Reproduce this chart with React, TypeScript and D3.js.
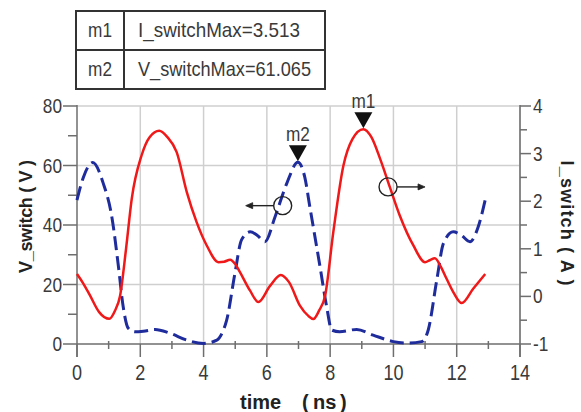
import React from "react";
import * as d3 from "d3";

// Switch current I_switch (A), sampled along time (ns)
const currentTime = [
  0, 0.2, 0.41, 0.7, 1.02, 1.2, 1.36, 1.55, 1.73, 2.04, 2.3, 2.6, 2.85, 3.15, 3.47, 3.78, 4.1,
  4.47, 4.65, 4.84, 5.0, 5.15, 5.47, 5.73, 6.1, 6.44, 6.7, 7.05, 7.31, 7.47, 7.65, 7.84, 8.1,
  8.42, 8.7, 9.05, 9.3, 9.58, 9.89, 10.2, 10.63, 11.0, 11.15, 11.31, 11.5, 11.68, 11.9, 12.16,
  12.52, 12.9,
];
const currentAmps = [
  0.47, 0.27, 0.02, -0.33, -0.47, -0.3, 0.01, 1.0, 2.05, 2.96, 3.35, 3.48, 3.35, 3.03, 2.19, 1.56,
  1.07, 0.72, 0.73, 0.77, 0.68, 0.51, 0.12, -0.12, 0.22, 0.45, 0.3, -0.2, -0.41, -0.475, -0.3,
  0.01, 1.35, 2.75, 3.3, 3.513, 3.35, 2.89, 2.29, 1.7, 1.07, 0.72, 0.76, 0.8, 0.62, 0.37, 0.08,
  -0.14, 0.16, 0.47,
];

// Switch voltage V_switch (V), sampled along time (ns)
const voltageTime = [
  0, 0.2, 0.5, 0.83, 1.1, 1.31, 1.46, 1.62, 1.83, 2.1, 2.47, 2.94, 3.47, 4.0, 4.42, 4.6, 4.73,
  4.99, 5.2, 5.47, 5.7, 5.94, 6.26, 6.63, 6.98, 7.2, 7.36, 7.68, 7.89, 8.05, 8.3, 8.84, 9.36,
  10.0, 10.45, 10.89, 11.1, 11.37, 11.58, 11.89, 12.15, 12.42, 12.68, 12.9,
];
const voltageVolts = [
  48.4, 56, 61, 54, 42.8, 26, 12.5, 5.3, 4.1, 4.3, 4.9, 3.6, 1.3, 0.2, 1.3, 4, 8, 23.7, 35, 37.7,
  36.5, 34.4, 42.8, 54, 61.065, 56, 46, 26, 12.5, 4.7, 4.1, 4.9, 3, 0.8, 0.3, 0.8, 4.7, 21.5,
  33.8, 37.7, 36.5, 34.4, 39.4, 48.4,
];

// Axis ticks
const timeTicks = [0, 2, 4, 6, 8, 10, 12, 14];
const timeMinorTicks = [1, 3, 5, 7, 9, 11, 13];
const voltTicks = [0, 20, 40, 60, 80];
const voltMinorTicks = [10, 30, 50, 70];
const ampTicks = [-1, 0, 1, 2, 3, 4];
const ampMinorTicks = [-0.5, 0.5, 1.5, 2.5, 3.5];

// Markers: m1 on the current trace, m2 on the voltage trace
const markerNames = ["m1", "m2"];
const markerLabels = ["I_switchMax", "V_switchMax"];
const markerValues = [3.513, 61.065];
const markerTimes = [9.05, 6.98];
const markerAxis = ["I", "V"];

// Axis-ownership indicators (circle on a trace with an arrow toward its axis)
const indicatorTimes = [6.5, 9.83];
const indicatorValues = [46.5, 2.3];
const indicatorAxis = ["V", "I"];

const W = 581;
const H = 412;
const sans = "'Liberation Sans', Arial, sans-serif";
// horizontal squeeze that gives the narrow face used for numbers and marker text
const SQUEEZE = 0.82;

function Narrow({
  x,
  y,
  anchor = "start",
  size = 21,
  children,
}: {
  x: number;
  y: number;
  anchor?: "start" | "middle" | "end";
  size?: number;
  children: React.ReactNode;
}) {
  return (
    <text
      transform={`translate(${x},${y}) scale(${SQUEEZE},1)`}
      textAnchor={anchor}
      fontFamily={sans}
      fontSize={size}
      fill="#3a3a3a"
    >
      {children}
    </text>
  );
}

export default function App() {
  const x = d3.scaleLinear().domain([0, 14]).range([77, 520]);
  const yV = d3.scaleLinear().domain([0, 80]).range([344, 106]);
  const yI = d3.scaleLinear().domain([-1, 4]).range([344, 106]);

  const currentLine = d3
    .line<number>()
    .x((_, i) => x(currentTime[i]))
    .y((d) => yI(d))
    .curve(d3.curveMonotoneX);
  const voltageLine = d3
    .line<number>()
    .x((_, i) => x(voltageTime[i]))
    .y((d) => yV(d))
    .curve(d3.curveMonotoneX);

  const axisColor = "#6e6e6e";
  const gridColor = "#cfcfcf";
  const tableLeft = 76;
  const tableRight = 325;
  const tableTop = 11;
  const rowH = 39;
  const colSplit = 124;
  const valueWidths = [162, 173];

  return (
    <svg
      width={W}
      height={H}
      style={{ position: "absolute", left: 0, top: 0, background: "#fff" }}
    >
      {/* marker table */}
      <g>
        <rect
          x={tableLeft}
          y={tableTop}
          width={tableRight - tableLeft}
          height={rowH * markerNames.length}
          fill="#fff"
          stroke="#333"
          strokeWidth={2}
        />
        <line x1={colSplit} x2={colSplit} y1={tableTop} y2={tableTop + rowH * 2} stroke="#333" strokeWidth={2} />
        {markerNames.map((n, i) => (
          <g key={n}>
            {i > 0 && (
              <line
                x1={tableLeft}
                x2={tableRight}
                y1={tableTop + rowH * i}
                y2={tableTop + rowH * i}
                stroke="#333"
                strokeWidth={2}
              />
            )}
            <Narrow x={(tableLeft + colSplit) / 2} y={tableTop + rowH * i + 26} anchor="middle">
              {n}
            </Narrow>
            <text
              x={138}
              y={tableTop + rowH * i + 26}
              fontFamily={sans}
              fontSize={21}
              fill="#3a3a3a"
              textLength={valueWidths[i]}
              lengthAdjust="spacingAndGlyphs"
            >
              {`${markerLabels[i]}=${markerValues[i].toFixed(3)}`}
            </text>
          </g>
        ))}
      </g>

      {/* grid */}
      <g stroke={gridColor} strokeWidth={1.5}>
        {timeTicks.slice(1).map((t) => (
          <line key={t} x1={x(t)} x2={x(t)} y1={yV(80)} y2={yV(0)} />
        ))}
        {voltTicks.slice(1).map((v) => (
          <line key={v} x1={x(0)} x2={x(14)} y1={yV(v)} y2={yV(v)} />
        ))}
      </g>

      {/* axes */}
      <g stroke={axisColor} strokeWidth={1.5}>
        <line x1={x(0)} x2={x(0)} y1={yV(80) - 1} y2={yV(0) + 13} />
        <line x1={x(14)} x2={x(14)} y1={yV(80) - 1} y2={yV(0) + 13} />
        <line x1={x(0)} x2={x(14)} y1={yV(0)} y2={yV(0)} />
        {timeTicks.map((t) => (
          <line key={t} x1={x(t)} x2={x(t)} y1={yV(0)} y2={yV(0) + 13} />
        ))}
        {timeMinorTicks.map((t) => (
          <line key={t} x1={x(t)} x2={x(t)} y1={yV(0) - 3} y2={yV(0) + 5} />
        ))}
        {voltTicks.map((v) => (
          <line key={v} x1={x(0) - 14} x2={x(0)} y1={yV(v)} y2={yV(v)} />
        ))}
        {voltMinorTicks.map((v) => (
          <line key={v} x1={x(0) - 9} x2={x(0)} y1={yV(v)} y2={yV(v)} />
        ))}
        {ampTicks.map((a) => (
          <line key={a} x1={x(14)} x2={x(14) + 11} y1={yI(a)} y2={yI(a)} />
        ))}
        {ampMinorTicks.map((a) => (
          <line key={a} x1={x(14)} x2={x(14) + 7} y1={yI(a)} y2={yI(a)} />
        ))}
      </g>

      {/* tick labels */}
      {timeTicks.map((t) => (
        <Narrow key={t} x={x(t)} y={380} anchor="middle" size={22}>
          {t}
        </Narrow>
      ))}
      {voltTicks.map((v) => (
        <Narrow key={v} x={x(0) - 15} y={yV(v) + 7} anchor="end">
          {v}
        </Narrow>
      ))}
      {ampTicks.map((a) => (
        <Narrow key={a} x={x(14) + 13} y={yI(a) + 7}>
          {a}
        </Narrow>
      ))}

      {/* axis titles */}
      <text y={409} fontFamily={sans} fontWeight="bold" fontSize={20} fill="#222">
        <tspan x={240}>time</tspan>
        <tspan x={302}>(</tspan>
        <tspan x={313}>ns</tspan>
        <tspan x={340}>)</tspan>
      </text>
      <text
        transform="translate(31.5,216.5) rotate(-90)"
        textAnchor="middle"
        fontFamily={sans}
        fontWeight="bold"
        fontSize={18}
        fill="#222"
        textLength={113}
        lengthAdjust="spacing"
      >
        V_switch ( V )
      </text>
      <text
        transform="translate(561,223) rotate(90)"
        textAnchor="middle"
        fontFamily={sans}
        fontWeight="bold"
        fontSize={18}
        fill="#222"
        textLength={125}
        lengthAdjust="spacing"
      >
        I_switch ( A )
      </text>

      {/* traces */}
      <path d={voltageLine(voltageVolts) ?? ""} fill="none" stroke="#1f2c9c" strokeWidth={3} strokeDasharray="14,6" />
      <path d={currentLine(currentAmps) ?? ""} fill="none" stroke="#f01818" strokeWidth={2.5} />

      {/* axis indicators */}
      {indicatorTimes.map((t, i) => {
        const cx = x(t);
        const cy = indicatorAxis[i] === "V" ? yV(indicatorValues[i]) : yI(indicatorValues[i]);
        const r = 9;
        const dir = indicatorAxis[i] === "V" ? -1 : 1;
        const x0 = cx + dir * r;
        const x1 = cx + dir * (r + 28);
        return (
          <g key={i} stroke="#222" strokeWidth={1.4}>
            <circle cx={cx} cy={cy} r={r} fill="none" />
            <line x1={x0} x2={x1 - dir * 4} y1={cy} y2={cy} />
            <path
              d={`M${x1},${cy}L${x1 - dir * 7},${cy - 3}L${x1 - dir * 7},${cy + 3}Z`}
              fill="#222"
              strokeWidth={0.8}
            />
          </g>
        );
      })}

      {/* markers */}
      {markerNames.map((n, i) => {
        const mx = x(markerTimes[i]);
        const my = markerAxis[i] === "V" ? yV(markerValues[i]) : yI(markerValues[i]);
        const tip = my - 1;
        return (
          <g key={n}>
            <path d={`M${mx - 9},${tip - 16}L${mx + 9},${tip - 16}L${mx},${tip}Z`} fill="#111" />
            <Narrow x={mx} y={tip - 20} anchor="middle" size={21}>
              {n}
            </Narrow>
          </g>
        );
      })}
    </svg>
  );
}
